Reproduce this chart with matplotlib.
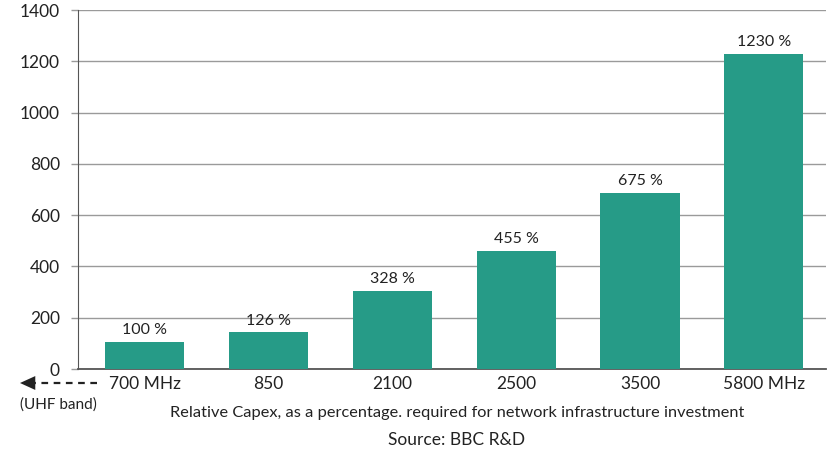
import matplotlib
matplotlib.use('Agg')
import matplotlib.pyplot as plt
from matplotlib.lines import Line2D
from matplotlib.patches import FancyArrowPatch

# values
bands = ['700 MHz', '850', '2100', '2500', '3500', '5800 MHz']
bar_heights = [105, 143, 306, 461, 686, 1228]
bar_labels = ['100 %', '126 %', '328 %', '455 %', '675 %', '1230 %']
yticks = [0, 200, 400, 600, 800, 1000, 1200, 1400]

BAR_COLOR = '#269b87'
TEXT_COLOR = '#222222'

plt.rcParams['font.family'] = ['Lato', 'DejaVu Sans']

fig = plt.figure(figsize=(8.28, 4.55), dpi=100)
ax = fig.add_axes([0.0942, 0.189, 0.903, 0.789])

x = range(len(bands))
ax.bar(x, bar_heights, width=0.64, color=BAR_COLOR, zorder=3)

for xi, h, lab in zip(x, bar_heights, bar_labels):
    ax.text(xi, h + 18, lab, ha='center', va='bottom', fontsize=11.5,
            color=TEXT_COLOR)

ax.set_xlim(-0.54, 5.5)
ax.set_ylim(0, 1400)
ax.set_yticks(yticks)
ax.set_yticklabels([str(t) for t in yticks], fontsize=12.5, color=TEXT_COLOR)
ax.set_xticks(list(x))
ax.set_xticklabels(bands, fontsize=12.5, color=TEXT_COLOR)

ax.yaxis.grid(True, color='#9a9a9a', lw=1, zorder=0)
ax.tick_params(axis='y', length=5, width=1, color='#9a9a9a', pad=8)
ax.tick_params(axis='x', length=0, pad=5)

for s in ['top', 'right']:
    ax.spines[s].set_visible(False)
ax.spines['left'].set_color('#555555')
ax.spines['bottom'].set_color('#555555')
ax.spines['bottom'].set_linewidth(1.3)

# UHF band arrow on the left: dashed shaft + solid head
ya = 1 - 383 / 455
fig.add_artist(Line2D([97 / 828, 30 / 828], [ya, ya], transform=fig.transFigure,
                      color=TEXT_COLOR, lw=1.6, linestyle=(0, (3, 2.5))))
fig.patches.append(FancyArrowPatch(
    (32 / 828, ya), (20 / 828, ya), transform=fig.transFigure,
    arrowstyle='-|>,head_length=0.55,head_width=0.25', mutation_scale=20,
    lw=0, color=TEXT_COLOR, shrinkA=0, shrinkB=0))
fig.text(58 / 828, 1 - 405 / 455, '(UHF band)', ha='center', va='center',
         fontsize=11, color=TEXT_COLOR)

fig.text(457 / 828, 1 - 413 / 455,
         'Relative Capex, as a percentage. required for network infrastructure investment',
         ha='center', va='center', fontsize=11.8, color=TEXT_COLOR)
fig.text(457 / 828, 1 - 440 / 455, 'Source: BBC R&D', ha='center', va='center',
         fontsize=12.5, color=TEXT_COLOR)

fig.savefig('out.png', dpi=100)
